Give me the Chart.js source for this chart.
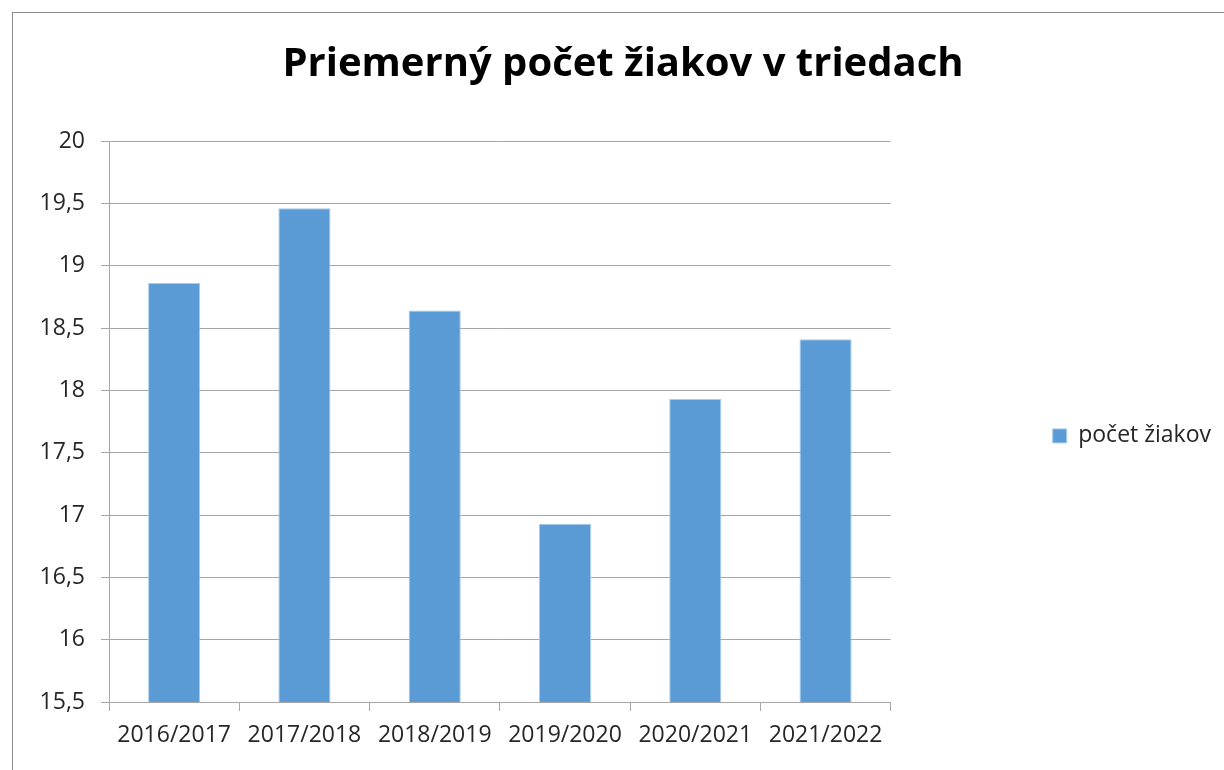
<!DOCTYPE html>
<html lang="sk">
<head>
<meta charset="utf-8">
<title>Priemerný počet žiakov v triedach</title>
<script src="https://cdn.jsdelivr.net/npm/chart.js@4.4.1/dist/chart.umd.min.js"></script>
<style>
  html, body { margin: 0; padding: 0; background: #fff; overflow: hidden; }
  #frame {
    position: absolute; left: 12px; top: 12px;
    width: 1222px; height: 780px;
    border: 1px solid #8c8c8c; box-sizing: border-box;
  }
  #frame canvas { position: absolute; left: 0; top: 0; }
</style>
</head>
<body>
<div id="frame"><canvas id="chart" width="1222" height="780"></canvas></div>
<script>
// údaje z grafu
const categories = ['2016/2017', '2017/2018', '2018/2019', '2019/2020', '2020/2021', '2021/2022'];
const pocetZiakov = [18.86, 19.46, 18.64, 16.93, 17.93, 18.41];
const yMin = 15.5;
const yMax = 20;
const yStep = 0.5;

const fontFamily = "'Open Sans', 'Noto Sans', sans-serif";
const gridColor = '#a6a6a6';
const textColor = '#262626';

new Chart(document.getElementById('chart'), {
  type: 'bar',
  data: {
    labels: categories,
    datasets: [
      {
        label: 'počet žiakov',
        data: pocetZiakov,
        backgroundColor: '#5b9bd5',
        borderColor: '#a9cbea',
        borderWidth: 1,
        barPercentage: 0.4,
        categoryPercentage: 1.0
      }
    ]
  },
  options: {
    responsive: false,
    animation: false,
    layout: {
      padding: { left: 12, right: 14, top: 0, bottom: 41 }
    },
    plugins: {
      title: {
        display: true,
        text: 'Priemerný počet žiakov v triedach',
        color: '#000',
        font: { family: fontFamily, size: 40, weight: 'bold', lineHeight: 1.2 },
        padding: { top: 28, bottom: 52 }
      },
      legend: {
        position: 'right',
        fullSize: false,
        maxWidth: 400,
        title: {
          // prázdny nadpis len posunie legendu trochu nižšie
          display: true,
          text: '',
          font: { size: 24, lineHeight: 1.2 },
          padding: 0
        },
        labels: {
          color: textColor,
          font: { family: fontFamily, size: 23 },
          boxWidth: 14,
          boxHeight: 14,
          padding: 162
        }
      },
      tooltip: { enabled: false }
    },
    scales: {
      x: {
        grid: {
          offset: true,
          drawOnChartArea: false,
          drawTicks: true,
          tickLength: 9,
          color: gridColor
        },
        border: { color: gridColor },
        ticks: {
          color: textColor,
          font: { family: fontFamily, size: 23 },
          padding: 11,
          maxRotation: 0
        },
        afterFit: (scale) => { scale.height = 50; }
      },
      y: {
        min: yMin,
        max: yMax,
        grid: {
          color: gridColor,
          tickLength: 8
        },
        border: { color: gridColor },
        ticks: {
          stepSize: yStep,
          color: textColor,
          font: { family: fontFamily, size: 23 },
          padding: 16,
          callback: (value) => String(value).replace('.', ',')
        },
        afterFit: (scale) => { scale.width = 84; }
      }
    }
  }
});
</script>
</body>
</html>
